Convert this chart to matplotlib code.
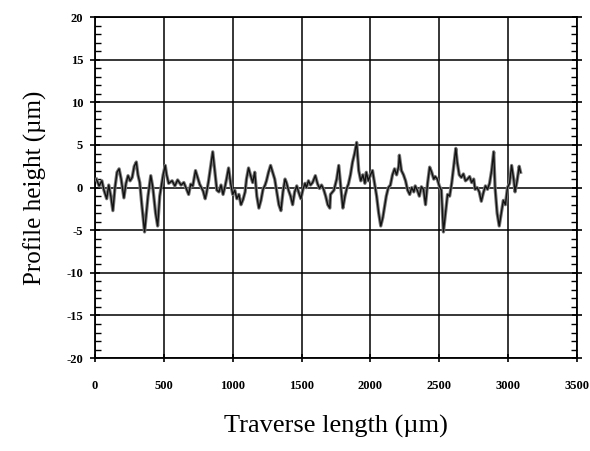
import matplotlib
matplotlib.use("Agg")
import matplotlib.pyplot as plt
from matplotlib.ticker import MultipleLocator

plt.rcParams['axes.unicode_minus'] = False
plt.rcParams['font.family'] = ['Liberation Serif', 'DejaVu Serif']

# Traverse position (µm) and profile height (µm)
x_um = [10, 30, 50, 65, 85, 100, 115, 130, 145, 160, 175, 190, 210, 225, 240, 255,
        270, 285, 300, 312, 325, 340, 360, 385, 405, 420, 440, 455, 470, 495, 510,
        520, 535, 560, 580, 600, 625, 645, 665, 680, 695, 710, 730, 745, 760, 785,
        800, 810, 825, 840, 855, 870, 885, 900, 915, 930, 945, 955, 970, 985, 1000,
        1015, 1030, 1045, 1060, 1075, 1090, 1100, 1115, 1130, 1145, 1160, 1175,
        1190, 1205, 1220, 1235, 1245, 1260, 1275, 1290, 1305, 1320, 1335, 1350,
        1365, 1380, 1390, 1405, 1420, 1435, 1450, 1465, 1480, 1495, 1510, 1525,
        1535, 1550, 1565, 1580, 1600, 1615, 1630, 1645, 1660, 1675, 1690, 1705,
        1710, 1735, 1755, 1770, 1785, 1800, 1815, 1830, 1840, 1855, 1870, 1885,
        1900, 1915, 1930, 1945, 1960, 1970, 1985, 2000, 2015, 2030, 2045, 2060,
        2075, 2090, 2105, 2115, 2130, 2145, 2160, 2175, 2190, 2205, 2210, 2225,
        2240, 2255, 2270, 2285, 2300, 2315, 2325, 2340, 2355, 2370, 2385, 2400,
        2415, 2430, 2445, 2460, 2470, 2485, 2500, 2515, 2530, 2545, 2560, 2575,
        2590, 2605, 2620, 2630, 2645, 2660, 2675, 2690, 2705, 2720, 2735, 2750,
        2760, 2775, 2790, 2805, 2820, 2835, 2850, 2865, 2880, 2895, 2905, 2920,
        2935, 2950, 2965, 2980, 2995, 3010, 3025, 3040, 3050, 3065, 3080, 3090]
height_um = [1.0, 0.2, 0.8, -0.3, -1.3, 0.3, -1.0, -2.7, 0.0, 1.8, 2.2, 1.0, -1.2,
             0.5, 1.4, 0.8, 1.2, 2.5, 3.0, 1.5, 0.6, -2.0, -5.2, -1.0, 1.4, 0.0,
             -3.0, -4.5, -1.0, 1.5, 2.6, 1.5, 0.5, 0.8, 0.2, 0.9, 0.3, 0.6, -0.2,
             -0.8, 0.4, 0.2, 2.0, 1.2, 0.4, -0.4, -1.3, -0.6, 0.8, 2.5, 4.2, 2.0,
             -0.3, -0.5, 0.3, -0.8, 0.2, 1.0, 2.3, 0.5, -0.8, -0.3, -1.3, -0.8,
             -2.0, -1.4, -0.5, 1.0, 2.3, 1.4, 0.6, 1.8, -1.0, -2.4, -1.5, -0.2,
             0.3, 0.8, 1.8, 2.6, 1.8, 1.0, -0.5, -2.0, -2.7, -0.5, 1.0, 0.6, -0.3,
             -1.0, -2.0, -0.5, 0.2, -0.6, -1.3, -0.2, 0.5, 0.0, 0.8, 0.3, 0.6, 1.4,
             0.5, -0.1, 0.3, -0.2, -1.0, -2.0, -2.4, -0.8, -0.3, 1.0, 2.6, 0.0,
             -2.4, -1.0, 0.0, 0.4, 1.5, 3.0, 4.0, 5.3, 2.0, 0.8, 1.5, 0.5, 1.8,
             0.8, 1.5, 2.0, 0.5, -1.0, -3.0, -4.5, -3.5, -2.0, -1.0, 0.0, 0.3, 1.5,
             2.2, 1.5, 2.5, 3.8, 2.0, 1.5, 0.8, -0.3, -0.8, 0.0, -0.5, 0.2, -0.3,
             -1.0, 0.1, -0.2, -2.0, 0.5, 2.4, 1.8, 1.0, 1.3, 1.0, 0.2, -0.3, -5.2,
             -3.0, -0.8, -1.0, 0.5, 2.5, 4.6, 3.0, 1.5, 1.2, 1.6, 0.8, 1.0, 1.3,
             0.6, 1.0, -0.2, 0.0, -0.5, -1.6, -0.6, 0.2, -0.2, 0.5, 2.0, 4.2, 0.0,
             -3.0, -4.5, -3.0, -1.5, -2.0, 0.0, 0.5, 2.6, 1.0, -0.5, 0.8, 2.5, 1.8]

x_ticks = [0, 500, 1000, 1500, 2000, 2500, 3000, 3500]
y_ticks = [-20, -15, -10, -5, 0, 5, 10, 15, 20]

fig = plt.figure(figsize=(5.9, 4.51), dpi=100)
ax = fig.add_axes([0.161, 0.206, 0.817, 0.756])

ax.plot(x_um, height_um, color='#7a7a7a', lw=2.4, zorder=3)
ax.plot(x_um, height_um, color='#111111', lw=1.0, zorder=4)

ax.set_xlim(0, 3500)
ax.set_ylim(-20, 20)
ax.set_xticks(x_ticks)
ax.set_yticks(y_ticks)
ax.yaxis.set_minor_locator(MultipleLocator(1))
ax.grid(True, which='major', color='black', lw=1.1)
ax.set_axisbelow(True)

for s in ax.spines.values():
    s.set_linewidth(1.3)
    s.set_color('black')

ax.tick_params(axis='y', which='major', direction='inout', length=7, width=1.2,
               left=True, right=True, labelsize=9, pad=5)
ax.tick_params(axis='y', which='minor', direction='in', length=4, width=1.0,
               left=True, right=True)
ax.tick_params(axis='x', which='major', direction='inout', length=6, width=1.2,
               labelsize=9, pad=13)
for lab in ax.get_xticklabels() + ax.get_yticklabels():
    lab.set_fontweight('bold')

ax.set_xlabel('Traverse length (µm)', fontsize=19, labelpad=16)
ax.set_ylabel('Profile height (µm)', fontsize=18, labelpad=14)

fig.savefig('out.png', dpi=100)
